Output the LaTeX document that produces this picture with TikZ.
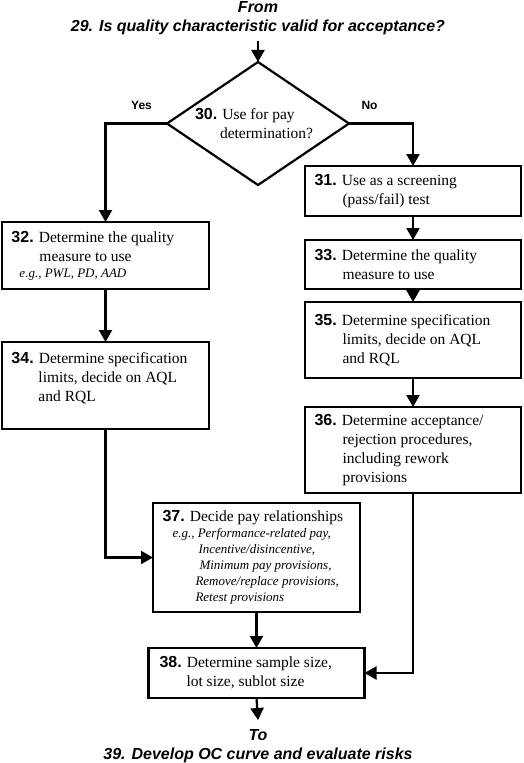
\documentclass[tikz,border=0pt]{standalone}
\usepackage{fontspec}
\setmainfont{Liberation Serif}
\newfontfamily\arialf{Liberation Sans}
\usetikzlibrary{arrows.meta,shapes.geometric}
\newcommand\nb[1]{{\arialf\bfseries\fontsize{16}{19}\selectfont #1}}
\newcommand\egf[1]{{\itshape\fontsize{13}{16}\selectfont #1}}
\tikzset{
  boxst/.style={draw, line width=2.2pt, rectangle, inner ysep=0pt, inner xsep=9.5pt,
    align=flush left, font=\fontsize{15.5}{19}\selectfont, outer sep=0pt},
  arr/.style={line width=2.2pt, -{Triangle[width=13pt,length=12pt]}},
  ttl/.style={font=\arialf\bfseries\itshape\fontsize{16}{19}\selectfont, align=center},
  yn/.style={font=\arialf\bfseries\fontsize{12}{14}\selectfont, inner sep=0pt},
}
\begin{document}
\begin{tikzpicture}[x=1pt,y=-1pt]
\useasboundingbox (0,0) rectangle (524,763);

\node[ttl, anchor=south, inner ysep=5.5pt] (from) at (258,40.5)
  {From\\29. Is quality characteristic valid for acceptance?};

\node[diamond, draw, line width=2.2pt, minimum width=182pt, minimum height=123pt,
  inner sep=0pt, aspect=1.48, text width=126pt, align=flush left,
  font=\fontsize{15.5}{19}\selectfont, outer sep=0pt] (d) at (258,123.5)
  {\nb{30.} Use for pay\\ \hspace*{25pt}determination?};

\node[yn] (yes) at (141.5,105) {Yes};
\node[yn] (no) at (369.5,105) {No};

\node[boxst, minimum width=216pt, minimum height=50pt, text width=197pt] (b31) at (413,191)
  {\nb{31.} Use as a screening\\ \hspace*{28pt}(pass/fail) test};
\node[boxst, minimum width=207pt, minimum height=67pt, text width=188pt] (b32) at (105.5,255.5)
  {\nb{32.} Determine the quality\\ \hspace*{28pt}measure to use\\[-3pt] \hspace*{8pt}\egf{e.g., PWL, PD, AAD}};
\node[boxst, minimum width=216pt, minimum height=49pt, text width=197pt] (b33) at (413,264.5)
  {\nb{33.} Determine the quality\\ \hspace*{28pt}measure to use};
\node[boxst, minimum width=207pt, minimum height=87pt, text width=188pt] (b34) at (105.5,385.5)
  {\nb{34.} Determine specification\\ \hspace*{27pt}limits, decide on AQL\\ \hspace*{27pt}and RQL\rule[-18pt]{0pt}{18pt}};
\node[boxst, minimum width=216pt, minimum height=76pt, text width=197pt] (b35) at (413,340)
  {\nb{35.} Determine specification\\ \hspace*{28pt}limits, decide on AQL\\ \hspace*{28pt}and RQL};
\node[boxst, minimum width=216pt, minimum height=86pt, text width=197pt] (b36) at (413,450)
  {\nb{36.} Determine acceptance/\\ \hspace*{28pt}rejection procedures,\\ \hspace*{28pt}including rework\\ \hspace*{28pt}provisions};
\node[boxst, minimum width=207pt, minimum height=109pt, text width=188pt] (b37) at (256.5,557.5)
  {\nb{37.} Decide pay relationships\\[-3pt]
   \hspace*{10pt}\egf{e.g., Performance-related pay,}\\[-3pt]
   \hspace*{36pt}\egf{Incentive/disincentive,}\\[-3pt]
   \hspace*{37pt}\egf{Minimum pay provisions,}\\[-3pt]
   \hspace*{33pt}\egf{Remove/replace provisions,}\\[-3pt]
   \hspace*{33pt}\egf{Retest provisions}};
\node[boxst, inner xsep=11pt, minimum width=216pt, minimum height=50pt, text width=194pt] (b38) at (256.5,673)
  {\nb{38.} Determine sample size,\\ \hspace*{27pt}lot size, sublot size};

\node[ttl, anchor=north, inner ysep=9.5pt] (to) at (258,720)
  {To\\39. Develop OC curve and evaluate risks};

\draw[arr] (from) -- (d);
\draw[arr] (d.west) -| (b32.north);
\draw[arr] (d.east) -| (b31.north);
\draw[arr] (b31) -- (b33);
\draw[arr] (b33) -- (b35);
\draw[arr] (b35) -- (b36);
\draw[arr] (b32) -- (b34);
\draw[arr] (b34.south) |- (b37.west);
\draw[arr] (b37) -- (b38);
\draw[arr] (b36.south) |- (b38.east);
\draw[arr] (b38.south) -- (to.north);
\end{tikzpicture}
\end{document}
